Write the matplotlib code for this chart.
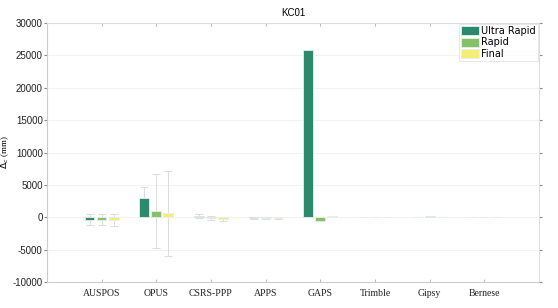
import matplotlib
matplotlib.use("Agg")
import matplotlib.pyplot as plt
import numpy as np

categories = ["AUSPOS", "OPUS", "CSRS-PPP", "APPS", "GAPS", "Trimble", "Gipsy", "Bernese"]
series_names = ["Ultra Rapid", "Rapid", "Final"]
ultra_rapid = [-350, 3000, 150, -100, 25800, 20, 60, 80]
rapid = [-350, 1000, -150, -100, -600, 20, 150, 80]
final = [-450, 600, -250, -80, 200, 20, 120, 0]
ultra_err = [900, 1700, 300, 100, 0, 0, 0, 0]
rapid_err = [900, 5700, 300, 100, 0, 0, 0, 0]
final_err = [900, 6500, 300, 100, 0, 0, 0, 0]
colors = ["#2b8a6c", "#86c068", "#f4ee78"]
yticks = [-10000, -5000, 0, 5000, 10000, 15000, 20000, 25000, 30000]

fig = plt.figure(figsize=(5.58, 3.08), dpi=100)
ax = fig.add_axes([0.084, 0.084, 0.882, 0.841])

x = np.arange(1, len(categories) + 1)
offsets = [-0.22, 0.0, 0.22]
width = 0.18
for vals, errs, col, off, name in zip([ultra_rapid, rapid, final],
                                      [ultra_err, rapid_err, final_err],
                                      colors, offsets, series_names):
    ax.errorbar(x + off, vals, yerr=errs, fmt="none", ecolor="#dcdcdc",
                elinewidth=0.7, capsize=3, capthick=0.7, zorder=2)
    ax.bar(x + off, vals, width, color=col, edgecolor="#e8f0ec", linewidth=0.6,
           label=name, zorder=3)

ax.set_xlim(0, 9)
ax.set_ylim(-10000, 30000)
ax.set_yticks(yticks)
ax.set_yticklabels([str(v) for v in yticks], fontsize=7, family="Liberation Sans", color="#222222")
ax.set_xticks(x)
ax.set_xticklabels(categories, fontsize=7, family="Liberation Serif", color="#222222")
ax.yaxis.grid(True, color="#f0f0f0", linewidth=0.6, zorder=0)
ax.set_axisbelow(True)
ax.tick_params(axis="x", direction="in", length=2, color="#bbbbbb", top=True, pad=5)
ax.tick_params(axis="y", direction="out", length=2, color="#888888", right=True, pad=1)
for s in ["top", "right"]:
    ax.spines[s].set_color("#dddddd")
for s in ["left", "bottom"]:
    ax.spines[s].set_color("#cccccc")
for s in ax.spines.values():
    s.set_linewidth(0.8)

ax.set_ylabel(r"$\Delta_c$ (mm)", fontsize=6.5, family="Liberation Serif")
ax.yaxis.set_label_coords(-0.072, 0.5)
ax.set_title("KC01", fontsize=7, family="Liberation Sans", pad=5)

leg = ax.legend(loc="upper right", fontsize=7, frameon=True, fancybox=False,
                edgecolor="#dddddd", borderpad=0.2, handlelength=1.8, handleheight=1.1,
                labelspacing=0.15, handletextpad=0.3, borderaxespad=0.1)
leg.get_frame().set_linewidth(0.6)

fig.savefig("out.png", dpi=100)
